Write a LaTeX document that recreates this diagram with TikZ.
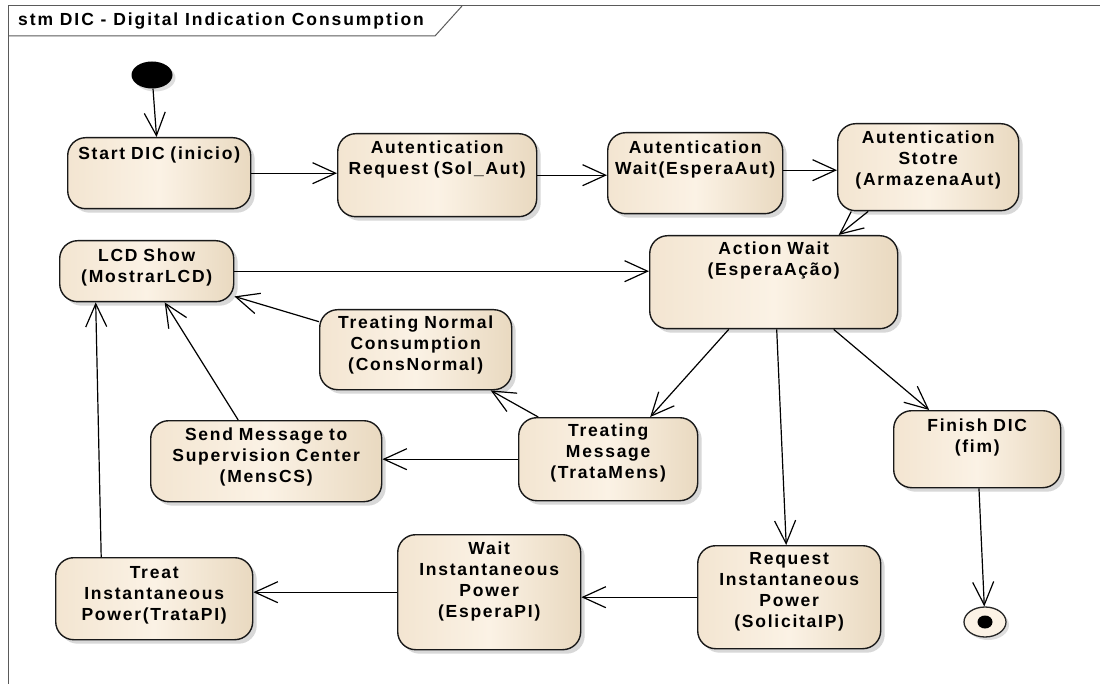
\documentclass[tikz,border=0pt]{standalone}
\usepackage{fontspec}
\setmainfont{Liberation Sans}[LetterSpace=10]
\newfontfamily\titlefont{Liberation Sans}[LetterSpace=11]
\usepackage{tikz}
\usetikzlibrary{arrows.meta,shadows,shapes.geometric}

\definecolor{stateleft}{HTML}{F3E5D1}
\definecolor{statemid}{HTML}{FBF2E5}
\definecolor{stateright}{HTML}{E9D9C0}
\definecolor{framegray}{HTML}{5A5A5A}

\tikzset{
  state/.style={rectangle,draw=black!90,line width=1.4pt,rounded corners=18pt,
    left color=stateleft,right color=stateright,middle color=statemid,
    drop shadow={shadow xshift=4pt,shadow yshift=-4pt,fill=black!30},
    anchor=north west,inner xsep=2pt,inner ysep=0pt,align=center,
    font=\fontsize{17.5}{21}\selectfont\bfseries},
  trans/.style={-{Straight Barb[length=23pt,width=21pt]},line width=1.2pt},
}

\begin{document}
\begin{tikzpicture}[x=1pt,y=-1pt]
\fill[white] (0,0) rectangle (1100,684);
\useasboundingbox (0,0) rectangle (1100,684);

% frame and title tab
\draw[framegray,line width=1pt] (1100,6) -- (8,6) -- (8,684);
\draw[framegray,line width=1pt] (8,36) -- (435,36) -- (462,6);
\node (title)[anchor=west,inner sep=0pt,font=\titlefont\fontsize{17.5}{21}\selectfont\bfseries] at (18,21) {stm DIC - Digital Indication Consumption};

% initial and final
\node (init)[ellipse,fill=black,minimum width=41pt,minimum height=27pt,inner sep=0pt,
  drop shadow={shadow xshift=3pt,shadow yshift=-3pt,fill=black!25}] at (152,75) {};
\node (final)[ellipse,draw=black!85,line width=1.3pt,fill=statemid,minimum width=42pt,minimum height=30pt,inner sep=0pt,
  drop shadow={shadow xshift=3pt,shadow yshift=-3pt,fill=black!25}] at (985,622) {};
\node (finaldot)[ellipse,fill=black,minimum width=15pt,minimum height=13pt,inner sep=0pt] at (final) {};

% states
\node (start)[state,text width=179pt,text height=22pt,text depth=49pt] at (67,137) {Start DIC (inicio)};
\node (autreq)[state,text width=195pt,text height=20pt,text depth=63pt] at (337,133) {Autentication\\Request (Sol\_Aut)};
\node (autwait)[state,text width=171pt,text height=21pt,text depth=60pt] at (607,132) {Autentication\\Wait(EsperaAut)};
\node (autstore)[state,text width=177pt,text height=20pt,text depth=67pt] at (837,123) {Autentication\\Stotre\\(ArmazenaAut)};
\node (actwait)[state,text width=244pt,text height=19pt,text depth=74pt] at (649,235) {Action Wait\\(EsperaAção)};
\node (lcd)[state,text width=170pt,text height=21pt,text depth=40pt] at (59,240) {LCD Show\\(MostrarLCD)};
\node (normal)[state,text width=188pt,text height=19pt,text depth=61pt] at (319,309) {Treating Normal\\Consumption\\(ConsNormal)};
\node (send)[state,text width=227pt,text height=20pt,text depth=61pt] at (150,420) {Send Message to\\Supervision Center\\(MensCS)};
\node (tratamsg)[state,text width=175pt,text height=19pt,text depth=64pt] at (518,417) {Treating\\Message\\(TrataMens)};
\node (finish)[state,text width=163pt,text height=21pt,text depth=56pt] at (893,410) {Finish DIC\\(fim)};
\node (reqip)[state,text width=179pt,text height=19pt,text depth=84pt] at (697,545) {Request\\Instantaneous\\Power\\(SolicitaIP)};
\node (waitip)[state,text width=179pt,text height=20pt,text depth=95pt] at (397,534) {Wait\\Instantaneous\\Power\\(EsperaPI)};
\node (treatip)[state,text width=193pt,text height=21pt,text depth=61pt] at (55,557) {Treat\\Instantaneous\\Power(TrataPI)};

% transitions
\draw[trans] (init) -- (start);
\draw[trans] (start.east) -- (start.east -| autreq.west);
\draw[trans] (autreq.east) -- (autreq.east -| autwait.west);
\draw[trans] ([yshift=3pt]autwait.east) -- ([yshift=3pt]autwait.east -| autstore.west);
\draw[trans] ([xshift=-60pt]autstore.south) -- ([xshift=65pt]actwait.north);
\draw[trans] (lcd.east) -- (lcd.east -| actwait.west);
\draw[trans] ([yshift=28pt]normal.west) -- ([yshift=6pt]lcd.south east);
\draw[trans] ([xshift=-28pt]send.north) -- ([xshift=18pt]lcd.south);
\draw[trans] ([xshift=-53pt]treatip.north) -- ([xshift=-51pt]lcd.south);
\draw[trans] (tratamsg.west) -- (tratamsg.west -| send.east);
\draw[trans] ([xshift=-70pt]tratamsg.north) -- ([xshift=75pt]normal.south);
\draw[trans] ([xshift=-45pt]actwait.south) -- ([xshift=42pt]tratamsg.north);
\draw[trans] ([xshift=3pt]actwait.south) -- ([xshift=-3pt]reqip.north);
\draw[trans] ([xshift=60pt]actwait.south) -- ([xshift=-48pt]finish.north);
\draw[trans] (finish) -- (final);
\draw[trans] (reqip.west) -- (reqip.west -| waitip.east);
\draw[trans] (waitip.west) -- (waitip.west -| treatip.east);
\end{tikzpicture}
\end{document}
